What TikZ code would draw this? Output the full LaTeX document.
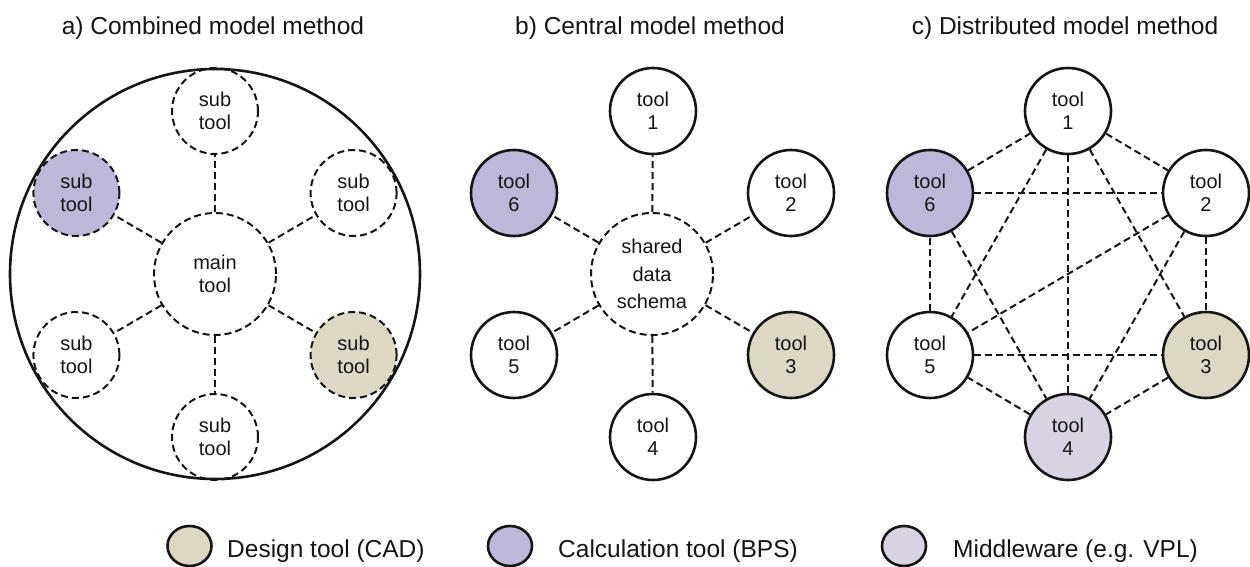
\documentclass[tikz,border=0pt]{standalone}
\usepackage{fontspec}
\setmainfont{Liberation Sans}
\usetikzlibrary{shapes.geometric}
\definecolor{calc}{HTML}{BCB8DA}
\definecolor{design}{HTML}{DDD8C6}
\definecolor{midw}{HTML}{D8D2E2}
\definecolor{ink}{HTML}{151515}
\tikzset{
  lbl/.style={font=\fontsize{20}{23.5}\selectfont, align=center, text=ink},
  dsh/.style={dash pattern=on 7pt off 4pt, line width=2pt},
  subc/.style={circle, draw=ink, dsh, lbl, minimum size=86pt, inner sep=0pt},
  mainc/.style={circle, draw=ink, dsh, lbl, minimum size=122pt, inner sep=0pt},
  toolc/.style={circle, draw=ink, line width=2.6pt, lbl, minimum size=86pt, inner sep=0pt, fill=white},
  conn/.style={draw=ink, dsh},
  ttl/.style={font=\fontsize{24.5}{28}\selectfont, anchor=base, text=ink},
  legc/.style={ellipse, draw=ink, line width=2.6pt, minimum width=44pt, minimum height=40pt, inner sep=0pt},
  legt/.style={font=\fontsize{24.5}{28}\selectfont, anchor=base west, text=ink, inner sep=0pt}
}
\begin{document}
\begin{tikzpicture}[x=1pt, y=-1pt]
\useasboundingbox (0,0) rectangle (1250,567);
% titles
\node[ttl] (ta) at (213,35) {a) Combined model method};
\node[ttl] (tb) at (650,35) {b) Central model method};
\node[ttl] (tc) at (1065,35) {c) Distributed model method};
% ---------- panel a
\node[circle, draw=ink, line width=2.6pt, minimum size=410pt, inner sep=0pt] (big) at (215,274) {};
\node[mainc] (main) at (215,274) {main\\tool};
\node[subc] (s1) at (215,111) {sub\\tool};
\node[subc] (s2) at (353.6,193) {sub\\tool};
\node[subc, fill=design] (s3) at (353.6,355) {sub\\tool};
\node[subc] (s4) at (215,437) {sub\\tool};
\node[subc] (s5) at (76.4,355) {sub\\tool};
\node[subc, fill=calc] (s6) at (76.4,193) {sub\\tool};
\foreach \s in {s1,s2,s3,s4,s5,s6} \path[conn] (main) -- (\s);
% ---------- panel b
\node[mainc] (sds) at (652,274) {};
\node[lbl, font=\fontsize{20}{27.5}\selectfont] (sdst) at (652,274) {shared\\data\\schema};
\node[toolc] (b1) at (653,111) {tool\\1};
\node[toolc] (b2) at (791,193) {tool\\2};
\node[toolc, fill=design] (b3) at (791,355) {tool\\3};
\node[toolc] (b4) at (653,437) {tool\\4};
\node[toolc] (b5) at (514,355) {tool\\5};
\node[toolc, fill=calc] (b6) at (514,193) {tool\\6};
\foreach \s in {b1,b2,b3,b4,b5,b6} \path[conn] (sds) -- (\s);
% ---------- panel c
\node[toolc] (c1) at (1068,111) {tool\\1};
\node[toolc] (c2) at (1206,193) {tool\\2};
\node[toolc, fill=design] (c3) at (1206,355) {tool\\3};
\node[toolc, fill=midw] (c4) at (1068,437) {tool\\4};
\node[toolc] (c5) at (930,355) {tool\\5};
\node[toolc, fill=calc] (c6) at (930,193) {tool\\6};
\foreach \a/\b in {c1/c2,c2/c3,c3/c4,c4/c5,c5/c6,c6/c1,c1/c3,c1/c4,c1/c5,c6/c2,c6/c4,c2/c5,c2/c4,c5/c3}
  \path[conn] (\a) -- (\b);
% ---------- legend
\node[legc, fill=design] (l1) at (189.5,546) {};
\node[legt] (l1t) at (227,557) {Design tool (CAD)};
\node[legc, fill=calc] (l2) at (510,546) {};
\node[legt] (l2t) at (558,557) {Calculation tool (BPS)};
\node[legc, fill=midw] (l3) at (904,546) {};
\node[legt] (l3t) at (953,557) {Middleware (e.g. VPL)};
\end{tikzpicture}
\end{document}
